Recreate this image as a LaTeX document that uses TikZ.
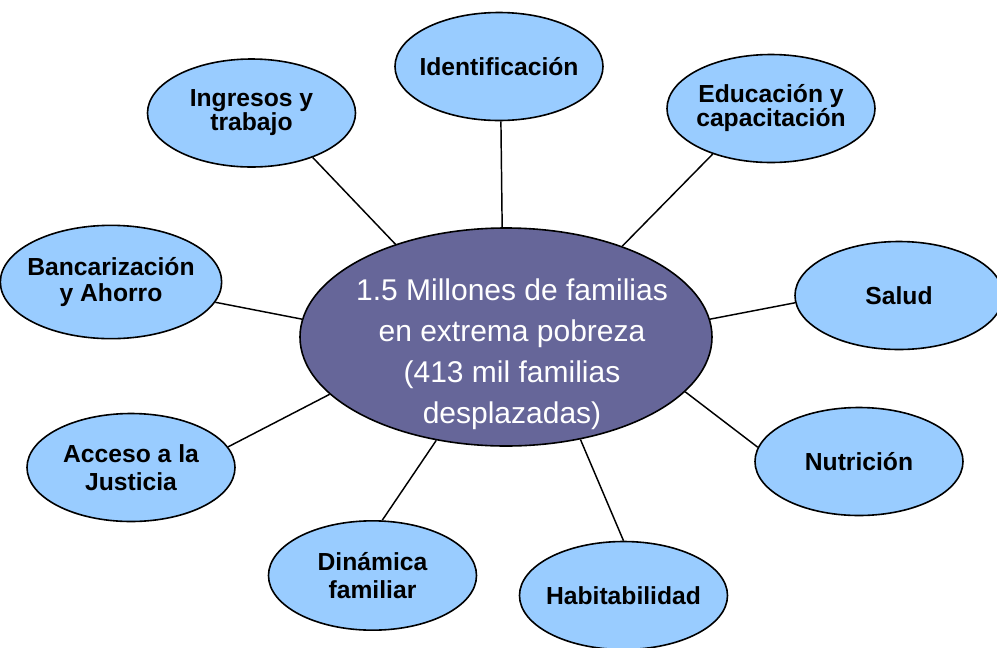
\documentclass[tikz,border=0pt]{standalone}
\usepackage{fontspec}
\setmainfont{Liberation Sans}
\usetikzlibrary{shapes.geometric}

\definecolor{celeste}{RGB}{153,204,255}
\definecolor{violeta}{RGB}{102,102,153}

\begin{document}
\begin{tikzpicture}[x=0.75pt, y=-0.75pt,
    tema/.style={ellipse, draw, line width=1.2pt, fill=celeste, inner sep=-100pt,
      align=center, font=\bfseries\fontsize{18.5}{21}\selectfont},
    enlace/.style={line width=1.1pt}]
    \useasboundingbox (0,0) rectangle (997,647);

    % Central ellipse and its text
    \node[ellipse, draw, line width=1.2pt, fill=violeta, minimum width=309pt, minimum height=163.5pt] (hogar) at (506,337) {};
    \node[text=white, align=center, font=\fontsize{22.5}{30.75}\selectfont] (lema) at (512,354)
      {1.5 Millones de familias\\en extrema pobreza\\(413 mil familias\\desplazadas)};

    % Topics around it
    \foreach \n/\x/\y/\w/\h/\t in {identificacion/499/66.5/156pt/81pt/{Identificación},
        ingresos/251.5/113/156pt/81pt/{Ingresos y\\[-3pt]trabajo},
        educacion/771/108.5/156pt/81pt/{Educación y\\[-3pt]capacitación},
        bancarizacion/111/282/166pt/85pt/{Bancarización\\[-2pt]y Ahorro},
        salud/899/295.5/156pt/81pt/{Salud},
        acceso/131/467.5/156pt/81pt/{Acceso a la\\Justicia},
        nutricion/859/461.5/156pt/81pt/{Nutrición},
        dinamica/372.5/575.5/156pt/82pt/{Dinámica\\familiar},
        habitabilidad/623.5/595.5/156pt/81pt/{Habitabilidad}} {
      \node[tema, minimum width=\w, minimum height=\h] (\n) at (\x,\y) {\t};
    }

    % Connectors
    \foreach \n/\a/\b in {ingresos/-36/140, identificacion/-88/92, educacion/-142/38,
        bancarizacion/-11/175, salud/-176/5, acceso/12/-162,
        nutricion/172/-17, dinamica/80/-124, habitabilidad/90/-54} {
      \draw[enlace] (\n.\a) -- (hogar.\b);
    }
\end{tikzpicture}
\end{document}
